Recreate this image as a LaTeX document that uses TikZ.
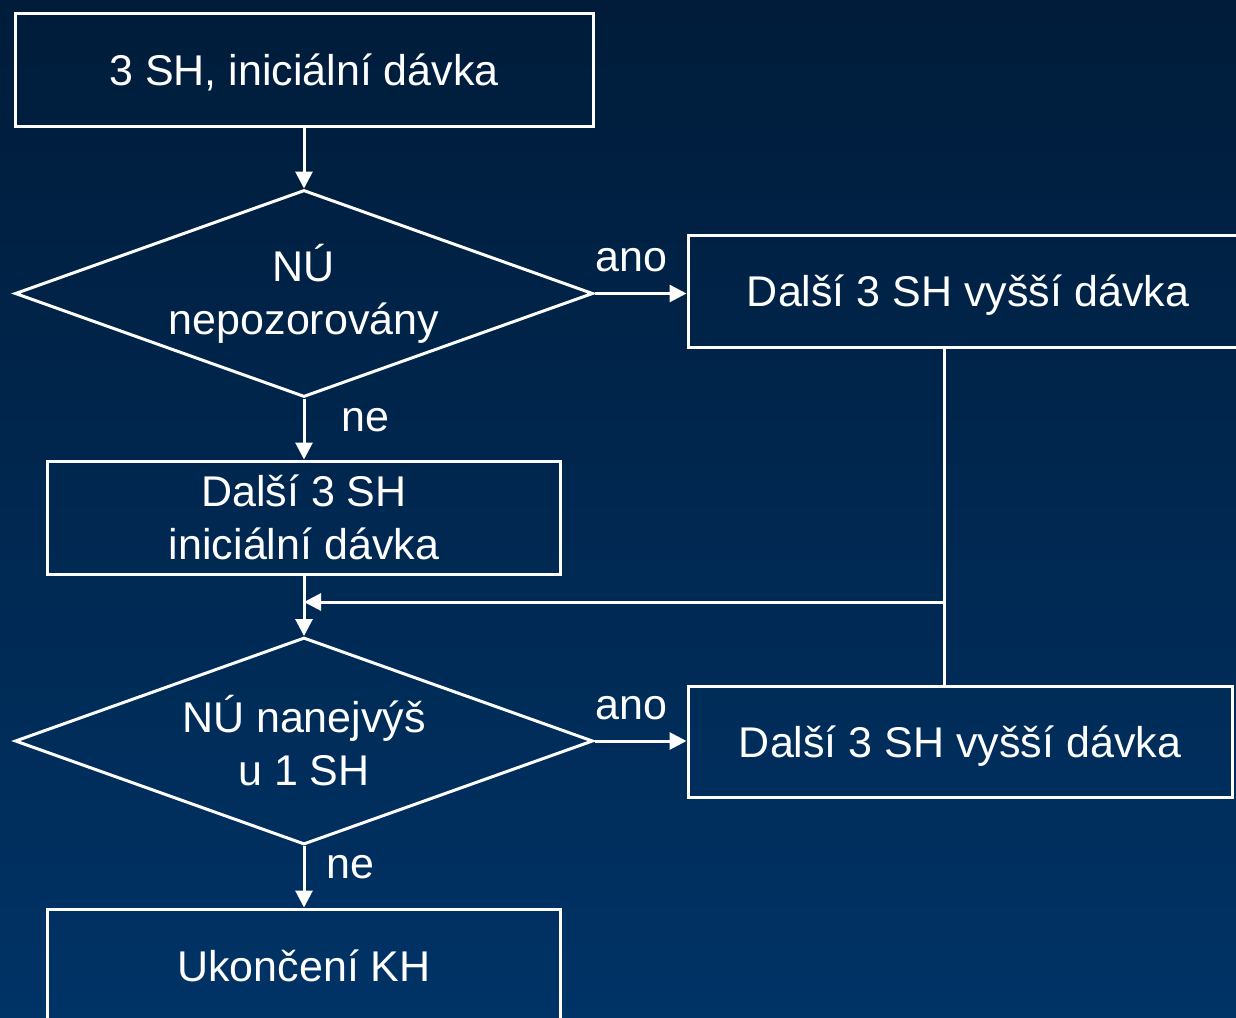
\documentclass[tikz,border=0pt]{standalone}
\usepackage{fontspec}
\setmainfont{Liberation Sans}
\usepackage{xcolor}
\usetikzlibrary{shapes.geometric, arrows.meta, positioning, calc}

\definecolor{bgtop}{RGB}{0,28,58}
\definecolor{bgbot}{RGB}{0,51,102}

\begin{document}
\begin{tikzpicture}[
    x=0.5pt, y=-0.5pt,
    every node/.style={text=white, font=\fontsize{21.5}{26.5}\selectfont},
    box/.style={rectangle, draw=white, line width=1.5pt, align=center, text depth=0pt, minimum height=56.5pt},
    dec/.style={diamond, draw=white, line width=1.5pt, align=center, inner sep=0pt, shape aspect=2.8, minimum width=289pt, minimum height=103.5pt},
    arrow/.style={draw=white, line width=1.5pt, -{Triangle[length=8.5pt, width=8.5pt]}},
    link/.style={draw=white, line width=1.5pt},
    lbl/.style={inner sep=0pt}
]
    % background
    \useasboundingbox (0,0) rectangle (1236,1017);
    \clip (0,0) rectangle (1236,1017);
    \shade[top color=bgtop, bottom color=bgbot] (0,0) rectangle (1236,1017);

    \node[box, minimum width=289pt] (start) at (304,69.5) {3 SH, iniciální dávka};
    \node[dec] (d1) at (304,293.5) {NÚ\\nepozorovány};
    \node[box, minimum width=276pt, minimum height=56pt] (hi1) at (964,291) {\hspace*{4pt}Další 3 SH vyšší dávka};
    \node[box, minimum width=256.5pt] (next) at (304,517.5) {Další 3 SH\\iniciální dávka};
    \node[dec] (d2) at (304,741) {NÚ nanejvýš\\u 1 SH};
    \node[box, minimum width=272pt, minimum height=55.5pt] (hi2) at (960,741.5) {Další 3 SH vyšší dávka};
    \node[box, minimum width=256.5pt] (stop) at (304,965.5) {Ukončení KH};
    \coordinate (j) at (944,602);

    \draw[arrow] (start.south) -- (d1.north);
    \draw[arrow] (d1.east) -- node[lbl, above=10pt, xshift=-4.5pt] {ano} (d1.east -| hi1.west);
    \draw[arrow] (d1.south) -- node[lbl, right=18pt, yshift=4.5pt] {ne} (next.north);
    \draw[arrow] (next.south) -- (d2.north);
    \draw[link] (hi1.south -| j) -- (hi2.north -| j);
    \draw[arrow] (j) -- (j -| next.south);
    \draw[arrow] (d2.east) -- node[lbl, above=10pt, xshift=-4.5pt] {ano} (d2.east -| hi2.west);
    \draw[arrow] (d2.south) -- node[lbl, right=10.5pt, yshift=5pt] {ne} (stop.north);

\end{tikzpicture}
\end{document}
